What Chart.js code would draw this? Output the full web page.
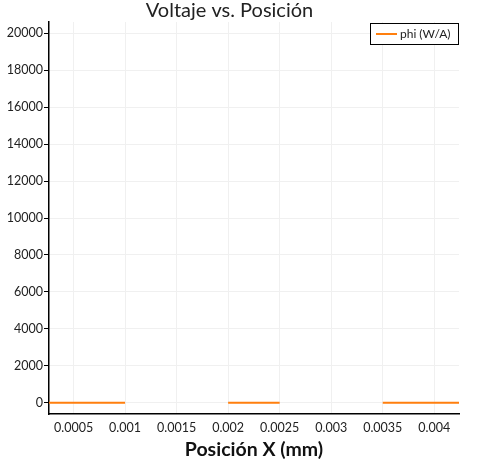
<!DOCTYPE html>
<html>
<head>
<meta charset="utf-8">
<script src="https://cdn.jsdelivr.net/npm/chart.js@4"></script>
<style>
  html, body { margin: 0; padding: 0; background: #fff; }
  #wrap { width: 479px; height: 460px; }
</style>
</head>
<body>
<div id="wrap"><canvas id="chartPhi"></canvas></div>
<script>
// ─── Datos ───────────────────────────────────────
const posX = [0.00025, 0.001, 0.0015, 0.002, 0.0025, 0.003, 0.0035, 0.00425];
const phi = [0, 0, null, 0, 0, null, 0, 0];
const xTicks = [0.0005, 0.001, 0.0015, 0.002, 0.0025, 0.003, 0.0035, 0.004];
const yTicks = [0, 2000, 4000, 6000, 8000, 10000, 12000, 14000, 16000, 18000, 20000];

const font = "Lato, 'DejaVu Sans', sans-serif";
Chart.defaults.font.family = font;
Chart.defaults.color = '#222';

// leyenda con borde negro, arriba a la derecha dentro del área
const boxLegend = {
  id: 'boxLegend',
  afterDraw(chart) {
    const ca = chart.chartArea;
    const ctx = chart.ctx;
    const ds = chart.data.datasets[0];
    ctx.save();
    ctx.font = '12px ' + font;
    const tw = ctx.measureText(ds.label).width;
    const w = Math.round(tw + 38), h = 22;
    const x = ca.right - w, y = ca.top + 1;
    ctx.fillStyle = '#fff';
    ctx.fillRect(x, y, w, h);
    ctx.strokeStyle = '#000';
    ctx.lineWidth = 1;
    ctx.strokeRect(x + 0.5, y + 0.5, w - 1, h - 1);
    ctx.strokeStyle = ds.borderColor;
    ctx.lineWidth = 2;
    ctx.beginPath();
    ctx.moveTo(x + 6, y + h / 2);
    ctx.lineTo(x + 27, y + h / 2);
    ctx.stroke();
    ctx.fillStyle = '#222';
    ctx.textBaseline = 'middle';
    ctx.fillText(ds.label, x + 30, y + h / 2 + 0.5);
    ctx.restore();
  },
};

new Chart(document.getElementById('chartPhi'), {
  type: 'line',
  data: {
    datasets: [{
      label: 'phi (W/A)',
      data: posX.map((x, i) => ({ x, y: phi[i] })),
      borderColor: '#ff7f0e',
      backgroundColor: '#ff7f0e',
      borderWidth: 2,
      pointRadius: 0,
      spanGaps: false,
    }],
  },
  options: {
    responsive: true,
    maintainAspectRatio: false,
    animation: false,
    layout: { padding: { left: 0, right: 20, top: 0, bottom: 0 } },
    plugins: {
      title: {
        display: true,
        text: 'Voltaje vs. Posición',
        color: '#222',
        font: { size: 20, weight: 'normal', lineHeight: 1.1 },
        padding: { top: 0, bottom: 0 },
      },
      legend: { display: false },
      tooltip: { enabled: false },
    },
    scales: {
      x: {
        type: 'linear',
        min: 0.000262,
        max: 0.00424,
        afterBuildTicks: (s) => { s.ticks = xTicks.map((v) => ({ value: v })); },
        afterFit: (s) => { s.height = 46; },
        ticks: { callback: (v) => String(v), font: { size: 12.5 }, color: '#222', padding: 6, maxRotation: 0 },
        grid: { color: '#f0f0f0', drawTicks: false },
        border: { color: '#000', width: 1.5 },
        title: { display: true, text: 'Posición X (mm)', color: '#111', font: { size: 19.5, weight: 'bold', lineHeight: 1.1 }, padding: { top: 0, bottom: 0 } },
      },
      y: {
        min: -612,
        max: 20620,
        afterBuildTicks: (s) => { s.ticks = yTicks.map((v) => ({ value: v })); },
        afterFit: (s) => { s.width = 49; },
        ticks: { callback: (v) => String(v), font: { size: 12.5 }, color: '#222', padding: 1 },
        grid: { color: '#f0f0f0', tickColor: '#000', tickLength: 5 },
        border: { color: '#000', width: 1.5 },
      },
    },
  },
  plugins: [boxLegend],
});
</script>
</body>
</html>
